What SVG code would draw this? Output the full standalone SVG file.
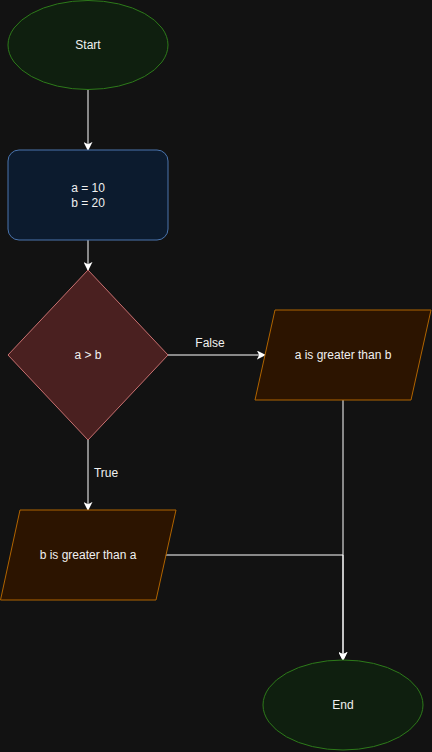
<svg xmlns="http://www.w3.org/2000/svg" width="432" height="752" viewBox="0 0 432 752">
<defs>
<marker id="arr" viewBox="0 0 10 10" refX="9" refY="5" markerWidth="9" markerHeight="9" markerUnits="userSpaceOnUse" orient="auto">
<path d="M0,0 L10,5 L0,10 L2.5,5 Z" fill="#ffffff"/>
</marker>
<style>
.t{font-family:"Liberation Sans",Arial,sans-serif;font-size:12px;fill:#f0f0f0;text-anchor:middle;dominant-baseline:central}
.term{fill:#0f1f0f;stroke:#2d7a1a;stroke-width:1}
.proc{fill:#0c1b2e;stroke:#4a74ad;stroke-width:1}
.dec{fill:#4a2020;stroke:#c87070;stroke-width:1}
.io{fill:#2c1400;stroke:#b06400;stroke-width:1}
.c{fill:none;stroke:#ffffff;stroke-width:1}
</style>
</defs>
<rect x="0" y="0" width="432" height="752" fill="#121212"/>
<g id="connectors">
<path class="c" d="M88,90 L88,150" marker-end="url(#arr)"/>
<path class="c" d="M88,240 L88,270" marker-end="url(#arr)"/>
<path class="c" d="M168,355 L265,355" marker-end="url(#arr)"/>
<text class="t" x="210" y="343">False</text>
<path class="c" d="M88,440 L88,510" marker-end="url(#arr)"/>
<text class="t" x="106" y="473">True</text>
<path class="c" d="M165,555 L343,555 L343,660" marker-end="url(#arr)"/>
<path class="c" d="M343,400 L343,660" marker-end="url(#arr)"/>
</g>
<g id="start">
<ellipse class="term" cx="88" cy="45" rx="80" ry="44.5"/>
<text class="t" x="88" y="45">Start</text>
</g>
<g id="assign">
<rect class="proc" x="8" y="150" width="160" height="90" rx="11"/>
<text class="t" x="88" y="188">a = 10</text>
<text class="t" x="88" y="203">b = 20</text>
</g>
<g id="decision">
<polygon class="dec" points="88,270 168,355 88,440 8,355"/>
<text class="t" x="88" y="355">a &gt; b</text>
</g>
<g id="outA">
<polygon class="io" points="275,310 431,310 411,400 255,400"/>
<text class="t" x="343" y="355">a is greater than b</text>
</g>
<g id="outB">
<polygon class="io" points="20,510 176,510 156,600 0.5,600"/>
<text class="t" x="88" y="555">b is greater than a</text>
</g>
<g id="end">
<ellipse class="term" cx="343" cy="705" rx="80" ry="45"/>
<text class="t" x="343" y="705">End</text>
</g>
</svg>
